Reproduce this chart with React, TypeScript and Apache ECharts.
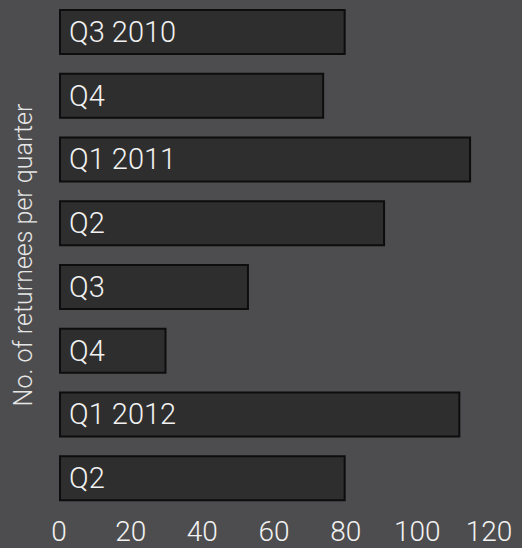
import React, { useEffect, useRef } from "react";
import * as echarts from "echarts";

const categories = ["Q3 2010", "Q4", "Q1 2011", "Q2", "Q3", "Q4", "Q1 2012", "Q2"];
const values = [80, 74, 115, 91, 53, 30, 112, 80];
const xTicks = [0, 20, 40, 60, 80, 100, 120];
const yAxisTitle = "No. of returnees per quarter";

export default function App() {
  const ref = useRef<HTMLDivElement>(null);
  useEffect(() => {
    const chart = echarts.init(ref.current!, null, { renderer: "svg" });
    const ids = categories.map((_, i) => String(i));
    chart.setOption({
      animation: false,
      backgroundColor: "#4d4d4f",
      textStyle: { fontFamily: "Roboto" },
      grid: { left: 59, top: -2, width: 430, height: 512, containLabel: false },
      xAxis: {
        type: "value",
        min: xTicks[0],
        max: xTicks[xTicks.length - 1],
        interval: 20,
        axisLine: { show: false },
        axisTick: { show: false },
        splitLine: { show: false },
        axisLabel: {
          color: "#f2f2f2",
          fontSize: 28,
          lineHeight: 26,
          fontWeight: 300,
          fontFamily: "Roboto",
          margin: 8,
        },
      },
      yAxis: {
        type: "category",
        inverse: true,
        data: ids,
        axisLine: { show: false },
        axisTick: { show: false },
        axisLabel: { show: false },
        name: yAxisTitle,
        nameLocation: "middle",
        nameGap: 23,
        nameRotate: 90,
        nameTextStyle: {
          color: "#e6e6e6",
          fontSize: 25,
          fontWeight: 300,
          fontFamily: "Roboto",
        },
      },
      series: [
        {
          type: "bar",
          data: values,
          barWidth: 46,
          itemStyle: { color: "#2e2e2e", borderColor: "#0d0d0d", borderWidth: 2 },
          label: {
            show: true,
            position: "insideLeft",
            distance: 10,
            formatter: (p: any) => categories[p.dataIndex],
            color: "#f2f2f2",
            fontSize: 29,
            fontWeight: 300,
            fontFamily: "Roboto",
          },
        },
      ],
    });
    return () => chart.dispose();
  }, []);
  return <div ref={ref} style={{ width: 522, height: 548, position: "absolute", left: 0, top: 0 }} />;
}
